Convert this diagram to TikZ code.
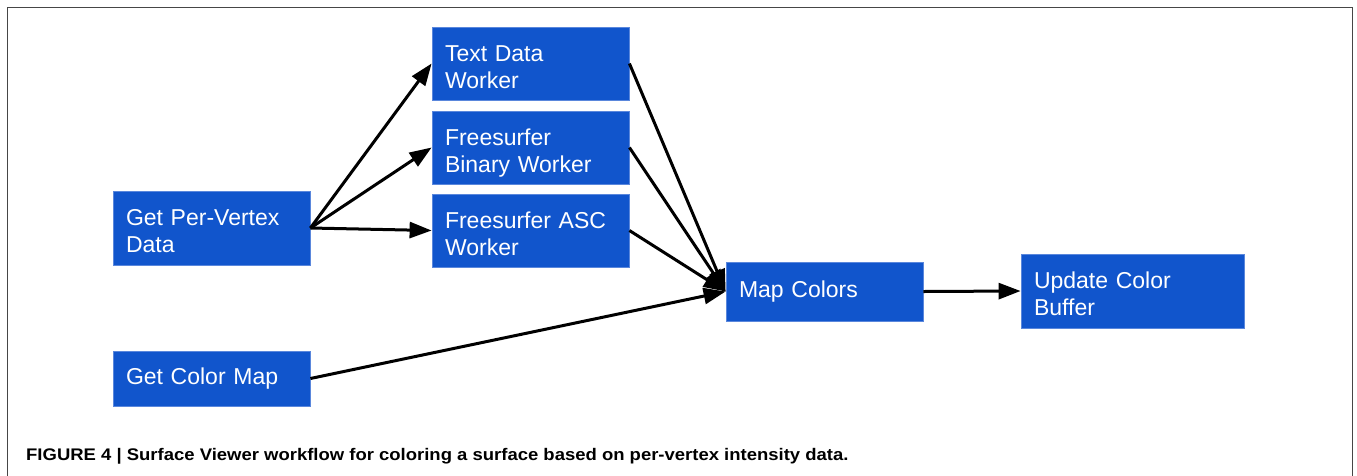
\documentclass[tikz,border=0pt]{standalone}
\usepackage{fontspec}
\setmainfont{Liberation Sans}
\usetikzlibrary{arrows.meta}
\definecolor{boxblue}{RGB}{17,85,204}
\definecolor{boxedge}{RGB}{90,135,220}
\definecolor{framecol}{RGB}{70,70,70}
\newcommand\tstrut{\rule{0pt}{28pt}}
\newcommand\bstrut{\rule[-6pt]{0pt}{6pt}}
\tikzset{
  flowbox/.style={fill=boxblue, draw=boxedge, line width=0.8pt, text=white,
    inner xsep=13pt, inner ysep=0pt, align=left,
    font=\fontsize{23}{27}\selectfont},
  flowarrow/.style={line width=3pt, -{Triangle[length=22pt,width=16pt]}, black}
}
\begin{document}
\begin{tikzpicture}[x=1pt,y=-1pt]
\useasboundingbox (0,0) rectangle (1357,475);
\fill[white] (0,0) rectangle (1357,475);
\draw[line width=1.6pt, framecol] (7.5,478) -- (7.5,7.5) -- (1352.5,7.5) -- (1352.5,478);

\node[flowbox, text width=171pt, minimum height=73pt] (tdw) at (530.5,63.5) {\tstrut Text Data\\Worker\bstrut};
\node[flowbox, text width=171pt, minimum height=73pt] (fbw) at (530.5,147.5) {\tstrut Freesurfer\\Binary Worker\bstrut};
\node[flowbox, text width=171pt, minimum height=73pt] (fasc) at (530.5,230.5) {\tstrut Freesurfer ASC\\Worker\bstrut};
\node[flowbox, text width=171pt, minimum height=74pt] (gpv) at (211.5,228) {\tstrut Get Per-Vertex\\Data\bstrut};
\node[flowbox, text width=171pt, minimum height=55pt] (gcm) at (211.5,378.5) {Get Color Map};
\node[flowbox, text width=171pt, minimum height=59pt] (mc) at (824.5,291.5) {Map Colors};
\node[flowbox, text width=197pt, minimum height=74pt] (ucb) at (1132.5,291) {\tstrut Update Color\\Buffer\bstrut};

\draw[flowarrow] (gpv.east) -- (tdw.west);
\draw[flowarrow] (gpv.east) -- (fbw.west);
\draw[flowarrow] (gpv.east) -- (fasc.west);
\draw[flowarrow] (tdw.east) -- (mc.west);
\draw[flowarrow] (fbw.east) -- (mc.west);
\draw[flowarrow] (fasc.east) -- (mc.west);
\draw[flowarrow] (gcm.east) -- (mc.west);
\draw[flowarrow] (mc.east) -- (ucb.west);

\node[anchor=base west, inner sep=0pt, font=\fontsize{16.8}{20}\selectfont\bfseries] (cap) at (26,460)
  {\scalebox{1.1}[1]{FIGURE 4 | Surface Viewer workflow for coloring a surface based on per-vertex intensity data.}};
\end{tikzpicture}
\end{document}
